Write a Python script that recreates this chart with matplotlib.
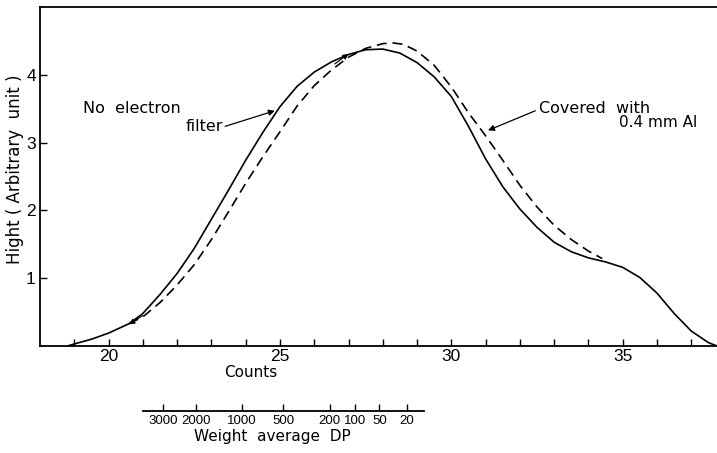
import numpy as np
import matplotlib.pyplot as plt

# solid curve: no electron filter
counts_solid = [18.8, 19.0, 19.5, 20.0, 20.6, 21.0, 21.5, 22.0, 22.5, 23.0, 23.5, 24.0,
                24.5, 25.0, 25.5, 26.0, 26.5, 27.0, 27.5, 28.0, 28.5, 29.0, 29.5, 30.0,
                30.5, 31.0, 31.5, 32.0, 32.5, 33.0, 33.5, 34.0, 34.5, 35.0, 35.5, 36.0,
                36.5, 37.0, 37.5, 37.75]
height_solid = [0.0, 0.03, 0.1, 0.19, 0.33, 0.48, 0.76, 1.07, 1.44, 1.87, 2.3, 2.74,
                3.15, 3.53, 3.83, 4.04, 4.19, 4.3, 4.37, 4.38, 4.32, 4.18, 3.97, 3.68,
                3.24, 2.76, 2.35, 2.02, 1.75, 1.53, 1.39, 1.3, 1.24, 1.16, 1.01, 0.78,
                0.48, 0.22, 0.05, 0.0]

# dashed curve: covered with 0.4 mm Al
counts_dash = [20.6, 21.0, 21.5, 22.0, 22.5, 23.0, 23.5, 24.0, 24.5, 25.0, 25.5, 26.0,
               26.5, 27.0, 27.5, 28.0, 28.3, 28.6, 29.0, 29.5, 30.0, 30.5, 31.0, 31.5,
               32.0, 32.5, 33.0, 33.5, 34.0, 34.4]
height_dash = [0.33, 0.43, 0.64, 0.9, 1.2, 1.57, 1.98, 2.4, 2.79, 3.16, 3.54, 3.84,
               4.07, 4.26, 4.39, 4.46, 4.47, 4.45, 4.35, 4.14, 3.82, 3.44, 3.1, 2.74,
               2.37, 2.05, 1.78, 1.57, 1.4, 1.29]

# weight average DP scale (position on the counts scale)
dp_labels = ['3000', '2000', '1000', '500', '200', '100', '50', '20']
dp_pos = [21.6, 22.55, 23.9, 25.1, 26.45, 27.2, 27.9, 28.7]

plt.rcParams['font.family'] = 'DejaVu Sans'
digits = ['Liberation Sans', 'DejaVu Sans']

fig = plt.figure(figsize=(7.17, 4.53), dpi=100)
ax = fig.add_axes([0.0558, 0.2362, 0.9442, 0.7483])

ax.plot(counts_solid, height_solid, color='black', lw=1.2)
ax.plot(counts_dash, height_dash, color='black', lw=1.2, dashes=(6, 3.5))

ax.set_xlim(18, 37.75)
ax.set_ylim(0, 5)
ax.spines['right'].set_visible(False)
for s in ['left', 'bottom', 'top']:
    ax.spines[s].set_linewidth(1.3)

ax.set_xticks([20, 25, 30, 35])
ax.set_xticks(np.arange(19, 38, 1), minor=True)
ax.set_yticks([1, 2, 3, 4])
ax.tick_params(direction='in', length=5, width=1, labelsize=12.5, pad=2)
ax.tick_params(which='minor', direction='in', length=5, width=1)
ax.tick_params(axis='y', pad=3)
for lab in ax.get_xticklabels() + ax.get_yticklabels():
    lab.set_family(digits)

ax.set_xlabel('Counts', fontsize=11)
ax.xaxis.set_label_coords(0.312, -0.055)
ax.set_ylabel('Hight ( Arbitrary  unit )', fontsize=12)
ax.yaxis.set_label_coords(-0.024, 0.52)

# annotations
ax.text(19.25, 3.5, 'No  electron', fontsize=11.5, va='center', ha='left')
ax.text(23.35, 3.24, 'filter', fontsize=11.5, va='center', ha='right')
ax.annotate('', xy=(24.85, 3.47), xytext=(23.4, 3.24),
            arrowprops=dict(arrowstyle='-|>', color='black', lw=0.9,
                            mutation_scale=9, shrinkA=0, shrinkB=0))
ax.text(32.55, 3.51, 'Covered  with', fontsize=11.5, va='center', ha='left')
ax.text(34.9, 3.29, '0.4 mm Al', fontsize=11, va='center', ha='left')
ax.annotate('', xy=(31.07, 3.18), xytext=(32.45, 3.47),
            arrowprops=dict(arrowstyle='-|>', color='black', lw=0.9,
                            mutation_scale=9, shrinkA=0, shrinkB=0))

# small arrowheads where the curves meet
ax.annotate('', xy=(20.6, 0.32), xytext=(21.0, 0.45),
            arrowprops=dict(arrowstyle='-|>', color='black', lw=0.8,
                            mutation_scale=8, shrinkA=0, shrinkB=0))
ax.annotate('', xy=(27.0, 4.31), xytext=(26.6, 4.16),
            arrowprops=dict(arrowstyle='-|>', color='black', lw=0.8,
                            mutation_scale=8, shrinkA=0, shrinkB=0))

# DP scale below
ax2 = fig.add_axes([0.0558, 0.0927, 0.9442, 0.001])
ax2.set_xlim(18, 37.75)
ax2.set_ylim(0, 1)
for s in ['left', 'right', 'top']:
    ax2.spines[s].set_visible(False)
ax2.spines['bottom'].set_bounds(21.0, 29.2)
ax2.spines['bottom'].set_linewidth(1.3)
ax2.set_yticks([])
ax2.set_xticks(dp_pos)
ax2.set_xticklabels(dp_labels, family=digits)
ax2.tick_params(direction='in', length=5, width=1, labelsize=9.5, pad=3)
ax2.set_xlabel('Weight  average  DP', fontsize=11)
ax2.xaxis.set_label_coords(0.343, -40, transform=ax2.transAxes)
ax2.patch.set_visible(False)

fig.savefig('out.png', dpi=100)
